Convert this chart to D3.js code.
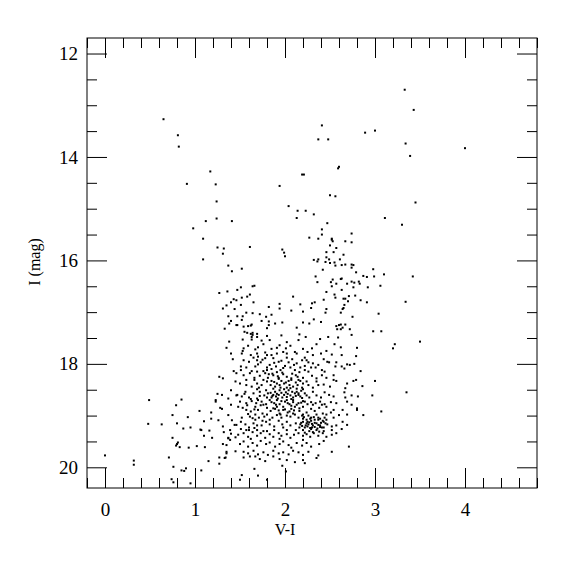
<!DOCTYPE html>
<html>
<head>
<meta charset="utf-8">
<script src="https://cdn.jsdelivr.net/npm/d3@7.9.0/dist/d3.min.js"></script>
<style>
  body { margin: 0; background: #fff; }
  text { font-family: "Liberation Serif", "DejaVu Serif", serif; fill: #000; }
</style>
</head>
<body>
<svg id="chart" width="575" height="575"></svg>
<script>
// axis ranges and ticks
const xDomain = [-0.2, 4.8];
const yDomain = [11.7, 20.4];
const xMajor = [0, 1, 2, 3, 4];
const yMajor = [12, 14, 16, 18, 20];

// [V-I, I]
const brightStars = [
  [0.65,13.27],[0.81,13.58],[0.82,13.80],[1.17,14.28],[0.91,14.52],[1.23,14.53],
  [2.41,13.39],[2.89,13.53],[3.00,13.49],[2.37,13.66],[2.48,13.66],[2.60,14.19],[2.59,14.22],
  [2.19,14.34],[2.21,14.34],[1.94,14.56],
  [3.33,12.70],[3.43,13.09],[3.34,13.74],[3.39,13.98],[4.00,13.83],
  [3.45,14.88],[3.30,15.31],[3.42,16.31],[3.34,16.80],
  [3.22,17.62],[3.20,17.70],[3.50,17.57],[3.35,18.55]
];

const blueSide = [
  [1.24,14.86],[1.24,15.19],[1.12,15.24],[1.41,15.24],[0.98,15.38],[1.09,15.58],[1.25,15.75],
  [1.32,15.77],[1.31,15.87],[1.09,15.98],[1.37,16.10],[1.41,16.21],[1.36,16.60],[1.27,16.63],
  [1.43,16.75],[1.46,16.77],[1.40,16.81],[1.35,16.87],[1.31,16.93],[1.44,16.94],[1.37,17.08],
  [1.40,17.17],[1.38,17.22],[1.33,17.32],[1.46,17.25]
];

const giantBranch = [
  [2.50,14.74],[2.56,14.76],[2.04,14.95],[2.14,15.04],[2.23,15.04],[2.32,15.11],[2.13,15.18],
  [3.11,15.18],[2.47,15.28],[2.41,15.40],[2.74,15.48],[2.41,15.50],[2.27,15.56],[2.37,15.58],
  [2.52,15.58],[2.53,15.63],[2.52,15.60],[2.67,15.63],[2.74,15.65],[2.50,15.71],[2.57,15.76],
  [1.61,15.74],[1.97,15.79],[1.99,15.85],[2.00,15.92],[2.46,15.84],[2.54,15.84],[2.65,15.89],
  [2.46,15.94],[2.32,15.99],[2.37,15.98],[2.36,16.02],[2.49,15.98],[2.45,16.03],[2.50,16.05],
  [2.55,16.04],[2.61,15.98],[2.56,16.10],[2.63,16.09],[2.67,16.08],[2.74,16.08],[2.76,16.09],
  [2.74,16.14],[1.52,16.16],[2.42,16.18],[2.79,16.23],[2.98,16.17],[2.34,16.31],[2.87,16.30],
  [2.91,16.32],[2.99,16.31],[3.10,16.27],[2.63,16.35],[2.62,16.36],[2.53,16.37],[2.36,16.42],
  [2.51,16.42],[2.57,16.45],[2.69,16.45],[2.74,16.41],[2.77,16.43],[2.82,16.41],[2.83,16.45],
  [2.52,16.50],[2.76,16.52],[2.92,16.52],[3.06,16.49],[1.64,16.50],[1.66,16.49],[1.51,16.52],
  [1.47,16.57],[2.63,16.57],[2.46,16.61],[2.55,16.66],[2.56,16.72],[2.71,16.69],[2.78,16.68],
  [2.65,16.74],[2.67,16.74],[2.70,16.79],[2.84,16.77],[2.91,16.81],[2.66,16.86],[2.65,16.92],
  [2.64,16.94],[1.61,16.66],[1.58,16.70],[1.52,16.72],[1.51,16.86],[1.65,16.81],[2.09,16.70],
  [2.43,16.76],[2.30,16.83],[2.33,16.81],[1.94,16.84],[1.94,16.93],[1.82,16.90],[2.17,16.85],
  [2.29,16.92],[2.46,16.94],[2.45,17.01],[2.20,16.99],[2.07,16.97],[2.62,17.01],[2.75,17.09],
  [3.04,17.03],[1.57,17.01],[1.64,17.02],[1.72,17.04],[1.85,17.05],[1.79,17.09],[1.47,17.08],
  [1.53,17.08],[1.52,17.15],[1.47,17.25],[1.74,17.17],[1.82,17.18],[1.97,17.20],[1.89,17.22],
  [2.20,17.20],[2.27,17.22],[2.32,17.14],[2.40,17.19],[1.82,17.25],[1.80,17.31],[1.63,17.24],
  [1.62,17.26],[1.59,17.27],[1.54,17.28],[2.57,17.27],[2.60,17.25],[2.62,17.24],[2.67,17.24],
  [2.64,17.30],[2.62,17.33],[2.58,17.33],[2.72,17.33],[2.13,17.30],[2.98,17.37],[3.07,17.37],
  [1.55,17.38],[1.58,17.40],[1.64,17.40],[1.62,17.42],[1.64,17.44],[1.69,17.42],[1.69,17.48],
  [1.63,17.48],[1.80,17.46],[1.96,17.45],[2.16,17.43],[2.23,17.48],[2.48,17.48],[2.74,17.44],
  [2.59,17.49]
];

const faintBlue = [
  [1.38,17.57],[1.35,17.69],[1.40,17.80],[1.42,17.91],[1.43,18.14],[1.45,18.34],[1.27,18.25],
  [1.31,18.28],[1.40,18.51],[1.25,18.58],[1.30,18.60],[1.23,18.70],[1.23,18.73],[1.37,18.67],
  [1.46,18.61],[0.49,18.70],[0.85,18.69],[0.79,18.80],[1.40,18.79],[1.28,18.85],[1.30,18.87],
  [1.05,18.91],[1.18,18.94],[0.75,18.99],[0.92,19.03],[1.18,19.06],[1.26,19.09],[1.37,18.99],
  [1.41,19.09],[0.48,19.16],[0.63,19.17],[0.80,19.15],[1.10,19.11],[1.31,19.21],[1.44,19.18],
  [0.87,19.25],[0.95,19.23],[1.06,19.27],[1.07,19.28],[1.16,19.29],[1.32,19.32],[1.39,19.28],
  [1.10,19.39],[1.19,19.43],[1.40,19.35],[1.37,19.43],[1.39,19.47],[1.37,19.44],[1.45,19.42],
  [0.75,19.43],[0.81,19.52],[0.80,19.55],[0.79,19.58],[0.83,19.61],[0.93,19.62],[1.02,19.59],
  [1.11,19.61],[1.31,19.55],[1.35,19.57],[1.35,19.70],[1.45,19.69],[1.35,19.73],[1.34,19.81],
  [1.33,19.82],[1.27,19.81],[1.15,19.88],[1.27,19.93],[0.00,19.77],[0.32,19.87],[0.32,19.95],
  [0.71,19.81],[0.76,19.99],[0.85,20.06],[0.88,20.07],[0.90,20.02],[1.07,20.06],[0.74,20.23],
  [0.76,20.29],[0.95,20.31]
];

const mainCloud = [
  [1.53,17.53],[1.63,17.53],[1.74,17.55],[1.83,17.54],[2.02,17.58],[2.15,17.54],[2.39,17.52],
  [2.55,17.62],[2.62,17.68],[2.80,17.69],[1.54,17.70],[1.59,17.65],[1.67,17.72],[1.70,17.68],
  [1.76,17.62],[1.85,17.71],[1.91,17.69],[1.94,17.64],[2.01,17.70],[2.06,17.65],[2.20,17.71],
  [2.35,17.62],
  [1.53,17.75],[1.62,17.83],[1.52,17.80],[1.69,17.80],[1.80,17.83],[1.91,17.80],[1.85,17.83],
  [2.02,17.80],[2.13,17.80],[2.11,17.77],[2.25,17.77],[2.30,17.70],[2.40,17.80],[2.52,17.82],
  [2.63,17.83],[2.79,17.85],[1.70,17.86],[2.02,17.88],[2.22,17.88],[2.46,17.75],[1.98,17.77],
  [2.31,17.83],[1.78,17.78],[1.65,17.88],
  [1.54,17.93],[1.60,17.96],[1.73,17.97],[1.78,17.89],[1.83,18.02],[1.87,17.89],[1.93,17.96],
  [1.96,17.94],[2.08,17.91],[2.13,17.99],[2.19,17.93],[2.26,17.97],[2.31,17.99],[2.37,18.02],
  [2.43,17.91],[2.47,17.96],[2.49,17.97],[2.57,17.97],[2.63,18.05],[2.69,18.01],[2.72,18.02],
  [2.77,18.00],[1.51,18.05],[1.57,18.07],[1.67,18.05],[1.80,18.07],[1.90,18.05],[2.00,18.04],
  [2.06,18.07],[2.17,18.07],[2.29,18.07],[2.34,18.07],[2.56,18.05],[2.66,18.09],[1.70,18.01],
  [2.04,17.97],[2.22,18.04],[1.69,17.93],
  [1.51,18.12],[1.69,18.15],[1.80,18.12],[1.85,18.10],[1.95,18.12],[2.11,18.12],[2.22,18.12],
  [2.41,18.12],[2.44,18.15],[2.84,18.14],[1.46,18.18],[1.54,18.22],[1.61,18.18],[1.72,18.23],
  [1.78,18.18],[1.81,18.27],[1.87,18.22],[2.02,18.25],[2.07,18.28],[2.12,18.22],[2.20,18.27],
  [2.30,18.23],[2.35,18.28],[2.41,18.22],[2.46,18.27],[1.63,18.14],[1.91,18.16],[1.98,18.20],
  [2.16,18.16],[2.26,18.15],[1.66,18.27],[1.93,18.27],[2.54,18.22],[1.76,18.14],
  [1.66,18.31],[1.93,18.29],[1.96,18.33],[2.15,18.31],[2.24,18.34],[2.54,18.31],[2.57,18.33],
  [2.69,18.38],[2.76,18.33],[2.79,18.31],[2.86,18.43],[3.00,18.33],[1.50,18.38],[1.57,18.41],
  [1.63,18.44],[1.69,18.38],[1.74,18.41],[1.80,18.34],[1.84,18.41],[1.89,18.44],[1.94,18.41],
  [1.99,18.38],[2.05,18.41],[2.09,18.44],[2.14,18.41],[2.19,18.46],[2.26,18.41],[2.31,18.46],
  [2.37,18.41],[2.43,18.40],[2.50,18.44],[2.67,18.47],[1.57,18.31],[1.76,18.31],[2.04,18.33],
  [2.35,18.34],[1.85,18.33],[2.20,18.38],[1.71,18.46],[2.02,18.46],
  [1.47,18.60],[1.52,18.63],[1.56,18.54],[1.60,18.65],[1.65,18.57],[1.69,18.67],[1.72,18.54],
  [1.77,18.61],[1.81,18.57],[1.85,18.65],[1.89,18.54],[1.93,18.60],[1.97,18.65],[2.01,18.55],
  [2.06,18.61],[2.09,18.65],[2.13,18.54],[2.17,18.63],[2.22,18.57],[2.27,18.65],[2.31,18.54],
  [2.35,18.61],[2.40,18.65],[2.44,18.55],[2.49,18.60],[2.54,18.63],[2.66,18.55],[2.67,18.65],
  [2.74,18.61],[2.81,18.63],[2.97,18.61],[1.79,18.51],[1.87,18.60],[1.94,18.51],[2.04,18.51],
  [2.11,18.57],[2.20,18.49],[1.90,18.63],[1.80,18.65],[1.99,18.60],[2.15,18.60],[2.24,18.61],
  [1.69,18.49],
  [1.50,18.73],[1.57,18.76],[1.63,18.72],[1.68,18.76],[1.74,18.73],[1.79,18.78],[1.83,18.70],
  [1.88,18.76],[1.94,18.78],[2.00,18.73],[2.05,18.78],[2.09,18.74],[2.15,18.76],[2.20,18.72],
  [2.25,18.78],[2.29,18.74],[2.34,18.76],[2.39,18.73],[2.44,18.78],[2.51,18.74],[2.57,18.76],
  [2.69,18.73],[2.74,18.79],[2.80,18.86],[1.48,18.83],[1.53,18.85],[1.67,18.83],[1.80,18.85],
  [1.91,18.70],[1.98,18.83],[2.11,18.83],[2.20,18.83],[2.38,18.85],[2.46,18.83],[1.76,18.79],
  [2.02,18.70],[2.22,18.73],[2.31,18.79],[2.41,18.79],[1.91,18.83],[1.70,18.70],[2.09,18.70],
  [1.57,18.89],[1.62,18.92],[1.70,18.89],[1.75,18.96],[1.84,18.91],[1.89,18.87],[1.94,18.96],
  [1.98,18.89],[2.03,18.94],[2.07,18.87],[2.11,18.98],[2.16,18.91],[2.24,18.94],[2.29,18.87],
  [2.33,18.91],[2.42,18.96],[2.51,18.94],[2.54,18.89],[2.60,18.99],[2.64,18.89],[2.69,18.98],
  [2.87,18.99],[3.07,18.92],[2.80,18.89],[1.52,19.04],[1.61,19.02],[1.71,19.04],[1.77,19.02],
  [1.86,19.04],[1.96,19.04],[2.06,19.02],[2.15,19.04],[2.19,19.00],[2.29,19.04],[2.37,19.04],
  [2.44,19.04],[2.54,19.04],[2.20,18.98],[2.26,19.00],[2.35,18.98],[1.80,18.98],[1.67,18.98],
  [2.02,19.00],[2.46,18.98],[1.91,18.99],
  [1.46,19.18],[1.51,19.12],[1.56,19.17],[1.60,19.23],[1.65,19.15],[1.69,19.19],[1.74,19.19],
  [1.79,19.12],[1.83,19.17],[1.88,19.21],[1.93,19.10],[1.97,19.17],[2.02,19.12],[2.06,19.19],
  [2.12,19.15],[2.17,19.17],[2.20,19.12],[2.23,19.19],[2.26,19.17],[2.29,19.10],[2.31,19.19],
  [2.35,19.15],[2.39,19.19],[2.43,19.12],[2.47,19.17],[2.52,19.21],[2.57,19.19],[2.64,19.12],
  [2.69,19.18],[2.22,19.23],[2.30,19.23],[2.37,19.08],[2.41,19.23],[2.20,19.06],[2.33,19.08],
  [2.43,19.23],[2.25,19.12],[2.16,19.23],[2.46,19.08],[1.98,19.23],[1.67,19.08],[1.83,19.08],
  [1.48,19.37],[1.54,19.34],[1.59,19.41],[1.64,19.32],[1.69,19.39],[1.73,19.34],[1.78,19.43],
  [1.83,19.36],[1.87,19.41],[1.93,19.34],[1.96,19.39],[2.02,19.36],[2.06,19.43],[2.10,19.37],
  [2.15,19.34],[2.20,19.39],[2.24,19.36],[2.28,19.41],[2.32,19.34],[2.37,19.39],[2.42,19.34],
  [2.46,19.41],[2.52,19.37],[2.57,19.34],[1.51,19.26],[1.60,19.28],[1.69,19.28],[1.88,19.28],
  [2.12,19.28],[2.35,19.28],[2.20,19.28],[2.29,19.26],[2.43,19.30],[2.52,19.28],[2.63,19.26],
  [2.02,19.28],[1.80,19.30],
  [1.50,19.55],[1.54,19.50],[1.59,19.60],[1.64,19.53],[1.69,19.58],[1.73,19.49],[1.79,19.55],
  [1.83,19.52],[1.89,19.60],[1.94,19.55],[1.98,19.50],[2.04,19.57],[2.07,19.62],[2.13,19.53],
  [2.19,19.58],[2.24,19.53],[2.29,19.60],[2.38,19.55],[2.43,19.49],[2.71,19.60],[1.62,19.45],
  [1.94,19.45],[2.20,19.47],[2.52,19.70],
  [1.54,19.70],[1.59,19.73],[1.65,19.68],[1.70,19.75],[1.76,19.71],[1.81,19.76],[1.87,19.68],
  [1.93,19.73],[1.98,19.71],[2.04,19.75],[2.09,19.68],[2.15,19.71],[2.20,19.76],[2.26,19.70],
  [1.54,19.81],[1.61,19.79],[1.67,19.79],[1.87,19.79],[2.37,19.77],[2.35,19.82],
  [1.72,19.84],[1.78,19.88],[1.94,19.84],[2.02,19.86],[2.11,19.90],[2.20,19.86],[2.22,19.92],
  [1.97,19.97],[1.66,20.03],[2.01,20.08],[1.52,20.15],[1.70,20.16],[1.50,20.24],[1.80,20.24]
];

// the crowded core and the red clump, where the dots overlap most
const denseCore = [
  [1.86,18.19],[1.92,18.24],[1.97,18.17],[2.08,18.19],[2.14,18.25],[1.88,18.35],[1.91,18.38],
  [2.01,18.36],[2.07,18.31],[2.12,18.36],[2.17,18.33],[1.87,18.48],[1.95,18.46],[1.99,18.49],
  [2.06,18.47],[2.13,18.48],[2.18,18.52],[1.84,18.56],[1.91,18.58],[1.96,18.56],[2.03,18.58],
  [2.08,18.54],[2.15,18.57],[2.19,18.66],[1.86,18.62],[1.92,18.67],[2.02,18.64],[2.07,18.68],
  [2.12,18.62],[1.85,18.74],[1.90,18.79],[1.96,18.72],[2.03,18.76],[2.07,18.81],[2.13,18.79],
  [2.18,18.75],[1.87,18.86],[1.93,18.90],[2.00,18.88],[2.05,18.92],[2.10,18.90],[2.16,18.86],
  [1.95,18.98],[2.09,18.96],
  [2.21,19.03],[2.24,19.08],[2.28,19.06],[2.32,19.03],[2.39,19.06],[2.42,19.10],[2.18,19.14],
  [2.24,19.15],[2.27,19.13],[2.30,19.16],[2.33,19.14],[2.37,19.18],[2.40,19.14],[2.45,19.15],
  [2.19,19.20],[2.25,19.21],[2.28,19.24],[2.33,19.22],[2.36,19.25],[2.39,19.22],[2.27,19.30],
  [2.31,19.32],[2.38,19.31],[2.22,19.33],
  [1.55,18.58],[1.62,18.68],[1.72,18.62],[1.58,18.80],[1.66,18.88],[1.73,18.80],[1.59,18.97],
  [1.64,19.05],[1.75,19.10],[1.57,19.28],[1.66,19.24],[1.76,19.30],
  [1.75,17.92],[1.88,17.98],[2.10,18.02],[1.98,18.08],[2.24,17.93],[1.82,18.20]
];

const groups = [brightStars, blueSide, giantBranch, faintBlue, mainCloud, denseCore];

const svg = d3.select("#chart");
const x = d3.scaleLinear().domain(xDomain).range([87, 537]);
const y = d3.scaleLinear().domain(yDomain).range([38, 488]);

const xMinor = d3.range(-0.2, 4.81, 0.2).map(v => +v.toFixed(1)).filter(v => !xMajor.includes(v));
const yMinor = d3.range(12, 20.41, 0.5).filter(v => !yMajor.includes(v));

function drawAxis(axisFn, scale, transform, major, minor, labels, pad) {
  const g = svg.append("g").attr("transform", transform);
  g.call(axisFn(scale).tickValues(major).tickSize(-20).tickPadding(pad)
    .tickFormat(labels ? d3.format("d") : ""));
  g.append("g").call(axisFn(scale).tickValues(minor).tickSize(-10).tickFormat(""));
  g.selectAll(".domain").remove();
  g.selectAll("line").attr("stroke", "#000");
  g.selectAll("text").attr("font-size", 19).attr("font-family", "Liberation Serif, serif");
  return g;
}

drawAxis(d3.axisBottom, x, "translate(0,488)", xMajor, xMinor, true, 15);
drawAxis(d3.axisTop, x, "translate(0,38)", xMajor, xMinor, false, 0);
drawAxis(d3.axisLeft, y, "translate(87,0)", yMajor, yMinor, true, 9);
drawAxis(d3.axisRight, y, "translate(537,0)", yMajor, yMinor, false, 0);

svg.append("rect")
  .attr("x", 87).attr("y", 38).attr("width", 450).attr("height", 450)
  .attr("fill", "none").attr("stroke", "#000").attr("stroke-width", 1);

svg.append("g").selectAll("rect")
  .data(groups.flat())
  .join("rect")
  .attr("x", d => x(d[0]) - 1)
  .attr("y", d => y(d[1]) - 1)
  .attr("width", 2).attr("height", 2)
  .attr("fill", "#000");

svg.append("text")
  .attr("x", x(2)).attr("y", 535)
  .attr("text-anchor", "middle").attr("font-size", 16)
  .text("V-I");

svg.append("text")
  .attr("transform", "translate(40,262) rotate(-90)")
  .attr("text-anchor", "middle").attr("font-size", 16)
  .text("I (mag)");
</script>
</body>
</html>
